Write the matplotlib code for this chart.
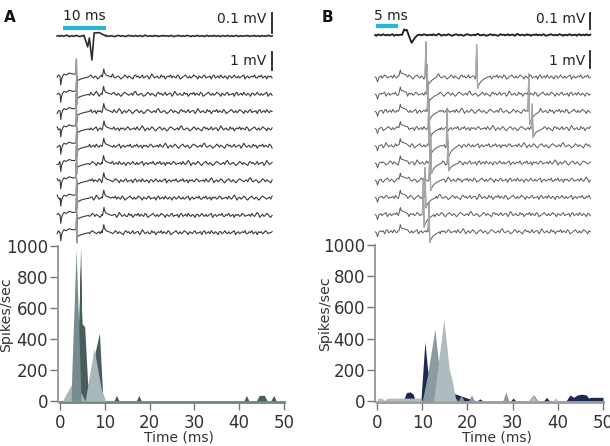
import numpy as np
import matplotlib.pyplot as plt

plt.rcParams['font.family'] = ['DejaVu Sans']

W, H = 610, 446

# hand-read baseline wiggle (arbitrary units), reused with an offset per trace
WIGGLE = [0, 1, -1, 2, 0, -1, 1, 3, 1, -2, 0, 1, -1, 0, 2, 1, -1, -2, 0, 1,
          2, 0, -1, 1, 0, -2, -1, 1, 2, 1, 0, -1, 0, 1, -1, 2, 3, 0, -1, 0,
          1, 0, -2, -1, 0, 2, 1, -1, 1, 0, -1, -2, 1, 2, 0, 1, -1, 0, 2, -1,
          0, 1, 1, -2, 0, 3, 1, -1, 0, 1, -1, -1, 2, 0, 1, -2, 0, 1, 0, 2,
          -1, 1, 0, -1, 2, 1, -2, -1, 0, 1, 2, 0, -1, 1, -1, 0, 2, 1, 0, -2,
          1, 0, -1, 1, 2, -1, 0, 0, 1, -2, 1, 2, -1, 0, 1, -1, 2, 0, -1, 1,
          0, -2, 1, 1, -1, 0, 2, 0, -1, 1, -1, 0, 1, 2, -2, 0, 1, -1, 0, 1,
          0, 2, -1, -1, 1, 0, 2, -1, 0, 1, -2, 1, 0, 1, -1, 0, 2, 1, -1, 0]

# ---------------- panel A traces (ms, mV) ----------------
A_AVG_T = [5.0, 5.8, 6.2, 6.8, 7.3, 8.5, 10.0]
A_AVG_V = [0.0, -0.054, -0.01, -0.12, 0.015, 0.017, 0.0]
A_ART_T = [-0.6, -0.45, -0.25, 0.0, 0.3, 0.8, 1.5, 2.2, 2.9]
A_ART_V = [0.0, -0.4, -0.1, 0.05, 0.15, 0.1, 0.2, 0.15, 0.15]
A_SPIKE_T = [-0.2, -0.05, 0.05, 0.15, 0.45, 0.95, 1.75, 2.75]
A_SPIKE_V = [0.15, 0.9, -0.5, -0.2, -0.15, -0.1, -0.05, 0.0]
A_BUMP_T = [-0.4, -0.05, 0.15, 0.5, 1.1, 1.7]
A_BUMP_V = [0.0, 0.4, 0.2, 0.1, 0.05, 0.0]
A_SPIKE_TIMES = [3.25, 3.3, 3.2, 3.25, 3.3, 3.25, 3.2, 3.3, 3.25, 3.3]
A_BUMP_TIMES = [9.6, 9.55, 9.6, 9.65, 9.6, 9.55, 9.6, 9.6, 9.65, 9.6]

# ---------------- panel B traces (ms, mV) ----------------
B_AVG_T = [6.0, 6.5, 6.8, 7.1, 7.5, 8.2, 9.0, 9.6]
B_AVG_V = [0.0, 0.044, 0.035, 0.04, 0.0, -0.06, -0.02, 0.0]
B_ART_T = [-0.2, 0.1, 0.35, 0.7, 1.2]
B_ART_V = [0.0, -0.08, -0.38, 0.0, 0.08]
B_BUMP_T = [5.3, 5.6, 5.8, 6.3, 7.0]
B_BUMP_V = [0.08, 0.55, 0.3, 0.25, 0.15]
B_SPIKE_T = [-0.2, 0.0, 0.2, 0.45, 0.9, 1.5, 2.5]
B_SPIKE_V = [0.0, 1.0, -0.35, -0.25, -0.15, -0.08, 0.0]
B_SPIKES = [[(11.5, 2.7), (23.2, 2.5)],
            [(11.8, 2.3)],
            [(12.0, 2.3), (35.2, 2.9)],
            [(12.2, 2.3), (36.0, 1.9)],
            [(12.3, 2.3), (16.4, 2.9)],
            [(12.6, 2.3), (16.6, 1.7)],
            [(12.4, 2.3)],
            [(11.3, 2.3)],
            [(10.9, 2.8)],
            [(12.2, 2.3)]]

# ---------------- PSTH values (ms, spikes/sec) ----------------
A_LIGHT_T = [0, 0.5, 2.6, 3.6, 4.6, 5.6, 7.6, 9.2, 10.2, 50]
A_LIGHT_V = [0, 0, 110, 130, 60, 0, 340, 80, 0, 0]
A_MID_T = [0, 2.5, 2.6, 3.6, 4.7, 50]
A_MID_V = [0, 0, 150, 980, 0, 0]
A_DARK_T = [0, 3.8, 4.5, 4.9, 5.5, 6.2, 8.8, 9.6, 12.0, 12.6, 13.2, 17.0, 17.6,
            18.2, 41.0, 41.6, 42.2, 43.8, 44.5, 45.6, 46.3, 47.0, 47.7, 48.3, 50]
A_DARK_V = [0, 0, 870, 500, 480, 100, 440, 0, 0, 38, 0, 0, 38,
            0, 0, 38, 0, 0, 38, 38, 0, 0, 38, 0, 0]
A_BLACK_T = [0, 3.9, 4.6, 5.1, 50]
A_BLACK_V = [0, 0, 1000, 0, 0]

B_NAVY_T = [0, 5.8, 6.5, 7.3, 8.0, 8.5, 9.7, 10.6, 11.2, 12.0, 22.0, 22.8, 23.5,
            29.5, 30.1, 30.8, 33.5, 34.6, 35.6, 36.8, 37.5, 38.2, 41.8, 42.7,
            43.5, 44.3, 45.3, 46.3, 46.8, 47.2, 50]
B_NAVY_V = [0, 0, 55, 60, 45, 0, 0, 380, 200, 100, 0, 15, 0,
            0, 20, 0, 0, 40, 0, 0, 25, 0, 0, 40,
            25, 40, 45, 40, 20, 25, 25]
B_MID_T = [0, 10.0, 11.2, 12.8, 13.8, 15.0, 18.0, 18.6, 19.3, 20.2, 20.9, 21.6,
           27.8, 28.5, 29.2, 50]
B_MID_V = [0, 0, 170, 460, 200, 100, 0, 40, 0, 0, 40, 0, 0, 60, 0, 0]
B_LIGHT_T = [0, 0.2, 1.0, 1.6, 2.4, 9.6, 10.0, 12.5, 14.8, 16.0, 16.5, 17.5,
             33.5, 34.5, 35.5, 38.8, 39.5, 40.2, 50]
B_LIGHT_V = [0, 20, 20, 5, 20, 20, 0, 0, 525, 200, 150, 0,
             0, 40, 0, 0, 20, 0, 0]

XTICKS = [0, 10, 20, 30, 40, 50]
YTICKS = [0, 200, 400, 600, 800, 1000]


def px_axes(fig, x0, x1, y0, y1):
    return fig.add_axes([x0 / W, 1 - y1 / H, (x1 - x0) / W, (y1 - y0) / H])


def build_trace(t0, t1, shift, scale, events):
    t = np.linspace(t0, t1, len(WIGGLE))
    v = np.roll(np.array(WIGGLE, float), shift) * scale
    keep = np.ones(len(t), bool)
    et, ev = [], []
    for te, st, sv, amp in events:
        st = te + np.array(st)
        keep &= ~((t >= st[0]) & (t <= st[-1]))
        et += list(st)
        ev += list(amp * np.array(sv))
    tt = np.concatenate([t[keep], et])
    vv = np.concatenate([v[keep], ev])
    o = np.argsort(tt)
    return tt[o], vv[o]


fig = plt.figure(figsize=(W / 100, H / 100), dpi=100)

# ---------------- trace panels ----------------
# A: x px = 62.7 + 4.3*t ; 20 px per mV for trials, 200 px per mV for average
axA = px_axes(fig, 55, 275, 0, 250)
axA.set_xlim((55 - 62.7) / 4.3, (275 - 62.7) / 4.3)
axA.set_ylim(250, 0)
axA.axis('off')

t, v = build_trace(-1.3, 48.7, 0, 0.0015, [(0, A_AVG_T, A_AVG_V, 1.0)])
axA.plot(t, 36 - v * 200, color='#2e2e2e', lw=1.2)
for i in range(10):
    base = 77 + 17.3 * i
    ev = [(0, A_ART_T, A_ART_V, 1.0),
          (A_SPIKE_TIMES[i], A_SPIKE_T, A_SPIKE_V, 1.0),
          (A_BUMP_TIMES[i], A_BUMP_T, A_BUMP_V, 1.0)]
    t, v = build_trace(-1.3, 48.7, 17 * i + 5, 0.05, ev)
    axA.plot(t, base - v * 20, color='#3a3a3a', lw=0.8)
    st = A_SPIKE_TIMES[i] + np.array(A_SPIKE_T[:4])
    axA.plot(st, base - np.array(A_SPIKE_V[:4]) * 20, color='#9c9c9c', lw=0.9)

axA.plot([0, 10], [28, 28], color='#29b6dc', lw=3, solid_capstyle='butt')
axA.text(4.95, 16, '10 ms', ha='center', va='center', fontsize=10, color='#222')
axA.text(47.4, 19, '0.1 mV', ha='right', va='center', fontsize=10, color='#222')
axA.plot([48.7, 48.7], [13, 33], color='#222', lw=1.3)
axA.text(47.4, 61, '1 mV', ha='right', va='center', fontsize=10, color='#222')
axA.plot([48.7, 48.7], [52, 70], color='#222', lw=1.3)

# B: x px = 376 + 4.34*t ; 13 px per mV for trials, 130 px per mV for average
axB = px_axes(fig, 370, 600, 0, 250)
axB.set_xlim((370 - 376) / 4.34, (600 - 376) / 4.34)
axB.set_ylim(250, 0)
axB.axis('off')

t, v = build_trace(-0.2, 49.4, 40, 0.003, [(0, B_AVG_T, B_AVG_V, 1.0)])
axB.plot(t, 35 - v * 130, color='#1e1e1e', lw=1.3)
for i in range(10):
    base = 77 + 17.2 * i
    ev = [(0, B_ART_T, B_ART_V, 1.0), (0, B_BUMP_T, B_BUMP_V, 1.0)]
    for ts, amp in B_SPIKES[i]:
        ev.append((ts, B_SPIKE_T, B_SPIKE_V, amp))
    t, v = build_trace(-0.2, 49.4, 23 * i + 11, 0.08, ev)
    axB.plot(t, base - v * 13, color='#5a5a5a', lw=0.7)
    for ts, amp in B_SPIKES[i]:
        st = ts + np.array(B_SPIKE_T[:4])
        axB.plot(st, base - amp * np.array(B_SPIKE_V[:4]) * 13,
                 color='#a8a8a8', lw=0.9)

axB.plot([0, 5], [26, 26], color='#29b6dc', lw=3, solid_capstyle='butt')
axB.text(3.4, 16, '5 ms', ha='center', va='center', fontsize=10, color='#222')
axB.text(48.2, 19, '0.1 mV', ha='right', va='center', fontsize=10, color='#222')
axB.plot([49.3, 49.3], [13, 29], color='#222', lw=1.3)
axB.text(48.2, 61, '1 mV', ha='right', va='center', fontsize=10, color='#222')
axB.plot([49.3, 49.3], [51, 68], color='#222', lw=1.3)


# ---------------- PSTH panels ----------------
def style_hist(ax, xcol, ylab_x):
    ax.set_xlim(0, 50)
    ax.set_ylim(-5, 1000)
    ax.set_xticks(XTICKS)
    ax.set_yticks(YTICKS)
    for s in ['top', 'right']:
        ax.spines[s].set_visible(False)
    ax.spines['left'].set_color('#8a8a8a')
    ax.spines['left'].set_linewidth(1.2)
    ax.spines['left'].set_position(('outward', 1.5))
    ax.spines['bottom'].set_color(xcol)
    ax.spines['bottom'].set_linewidth(2)
    ax.tick_params(direction='out', length=6, width=1, color='#777',
                   labelcolor='#333', labelsize=12, pad=1)
    ax.tick_params(axis='x', pad=2.5)
    ax.set_xlabel('Time (ms)', fontsize=10, color='#333')
    ax.set_ylabel('Spikes/sec', fontsize=10.2, color='#333')
    ax.xaxis.set_label_coords(0.53, -0.18)
    ax.yaxis.set_label_coords(ylab_x, 0.56)
    ax.patch.set_alpha(0)


hA = px_axes(fig, 60, 284, 246, 402)
hA.fill_between(A_BLACK_T, A_BLACK_V, color='#1e2626', lw=0, zorder=1)
hA.fill_between(A_DARK_T, A_DARK_V, color='#4a5c5b', lw=0, zorder=2)
hA.fill_between(A_LIGHT_T, A_LIGHT_V, color='#a8b7ba', lw=0, zorder=3)
hA.fill_between(A_MID_T, A_MID_V, color='#768d8f', lw=0, zorder=4)
style_hist(hA, '#6e8580', -0.21)

hB = px_axes(fig, 377, 603, 245, 402)
hB.fill_between(B_NAVY_T, B_NAVY_V, color='#1b2a50', lw=0, zorder=1)
hB.fill_between(B_MID_T, B_MID_V, color='#8a9ca1', lw=0, zorder=2)
hB.fill_between(B_LIGHT_T, B_LIGHT_V, color='#aebcbf', lw=0, zorder=3)
style_hist(hB, '#9a9a9a', -0.2)

fig.text(4 / W, 1 - 17 / H, 'A', fontsize=11, fontweight='bold', va='center',
         ha='left', color='#111')
fig.text(322 / W, 1 - 17 / H, 'B', fontsize=11, fontweight='bold', va='center',
         ha='left', color='#111')

fig.savefig('out.png', dpi=100)
